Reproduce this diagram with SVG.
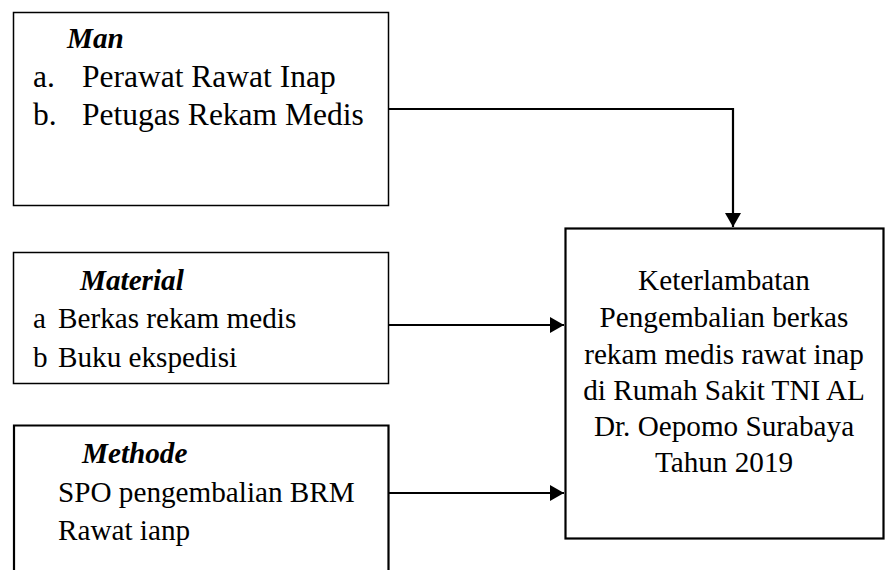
<svg xmlns="http://www.w3.org/2000/svg" width="885" height="570" viewBox="0 0 885 570">
<defs>
<style>
.t{font-family:"Liberation Serif","Times New Roman","DejaVu Serif",serif;font-size:29.2px;fill:#000}
.L{font-size:31.5px}
.h{font-weight:bold;font-style:italic}
.thin{fill:#fff;stroke:#000;stroke-width:1.5}
.thick{fill:#fff;stroke:#000;stroke-width:2.2}
.c{fill:none;stroke:#000;stroke-width:2.2}
</style>
<marker id="ah" viewBox="0 0 14 16" refX="14" refY="8" markerWidth="14" markerHeight="16" markerUnits="userSpaceOnUse" orient="auto">
<path d="M0,0 L14,8 L0,16 z" fill="#000"/>
</marker>
</defs>
<rect width="885" height="570" fill="#fff"/>
<g id="man">
<rect class="thin" x="13.5" y="12.5" width="375" height="193"/>
<text class="t h" x="67" y="48">Man</text>
<text class="t L" x="33" y="87">a.</text>
<text class="t L" x="82" y="87">Perawat Rawat Inap</text>
<text class="t L" x="33" y="125">b.</text>
<text class="t L" x="82" y="125">Petugas Rekam Medis</text>
</g>
<g id="material">
<rect class="thin" x="13.5" y="252.5" width="375" height="131"/>
<text class="t h" x="80" y="290">Material</text>
<text class="t" x="33" y="328">a</text>
<text class="t" x="58" y="328">Berkas rekam medis</text>
<text class="t" x="33" y="367">b</text>
<text class="t" x="58" y="367">Buku ekspedisi</text>
</g>
<g id="methode">
<path class="thick" d="M14,575 V425.5 H388.5 V575"/>
<text class="t h" x="82" y="463">Methode</text>
<text class="t" x="58" y="502">SPO pengembalian BRM</text>
<text class="t" x="58" y="540">Rawat ianp</text>
</g>
<g id="result">
<rect class="thick" x="565.5" y="228.5" width="318" height="310"/>
<text class="t" text-anchor="middle" x="724" y="290">Keterlambatan</text>
<text class="t" text-anchor="middle" x="724" y="327">Pengembalian berkas</text>
<text class="t" text-anchor="middle" x="724" y="364">rekam medis rawat inap</text>
<text class="t" text-anchor="middle" x="724" y="400">di Rumah Sakit TNI AL</text>
<text class="t" text-anchor="middle" x="724" y="436">Dr. Oepomo Surabaya</text>
<text class="t" text-anchor="middle" x="724" y="472">Tahun 2019</text>
</g>
<g id="connectors">
<path class="c" d="M389,109 H733 V227" marker-end="url(#ah)"/>
<path class="c" d="M389,325 H564" marker-end="url(#ah)"/>
<path class="c" d="M389,493 H564" marker-end="url(#ah)"/>
</g>
</svg>
